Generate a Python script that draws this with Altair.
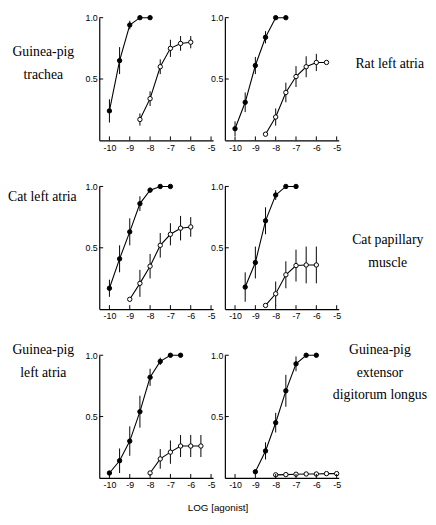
import altair as alt
import pandas as pd

# ---- data ----
panel_names = ["Guinea-pig\ntrachea", "Rat left atria", "Cat left atria",
               "Cat papillary\nmuscle", "Guinea-pig\nleft atria",
               "Guinea-pig\nextensor\ndigitorum longus"]

x_ticks = [-10, -9, -8, -7, -6, -5]
y_ticks = [0.5, 1.0]
x_title = "LOG [agonist]"

# Guinea-pig trachea
p1_full_x = [-10, -9.5, -9, -8.5, -8]
p1_full_y = [0.24, 0.65, 0.94, 1.0, 1.0]
p1_full_e = [0.095, 0.11, 0.035, 0, 0]
p1_part_x = [-8.5, -8, -7.5, -7, -6.5, -6]
p1_part_y = [0.17, 0.34, 0.60, 0.75, 0.79, 0.80]
p1_part_e = [0.05, 0.06, 0.06, 0.07, 0.06, 0.05]

# Rat left atria
p2_full_x = [-10, -9.5, -9, -8.5, -8, -7.5]
p2_full_y = [0.095, 0.31, 0.61, 0.84, 1.0, 1.0]
p2_full_e = [0.06, 0.08, 0.07, 0.05, 0, 0]
p2_part_x = [-8.5, -8, -7.5, -7, -6.5, -6, -5.5]
p2_part_y = [0.05, 0.19, 0.39, 0.52, 0.60, 0.635, 0.635]
p2_part_e = [0, 0.07, 0.08, 0.085, 0.085, 0.07, 0]

# Cat left atria
p3_full_x = [-10, -9.5, -9, -8.5, -8, -7.5, -7]
p3_full_y = [0.17, 0.41, 0.63, 0.86, 0.97, 1.0, 1.0]
p3_full_e = [0.07, 0.11, 0.11, 0.06, 0.02, 0, 0]
p3_part_x = [-9, -8.5, -8, -7.5, -7, -6.5, -6]
p3_part_y = [0.08, 0.21, 0.35, 0.52, 0.61, 0.66, 0.67]
p3_part_e = [0, 0.11, 0.10, 0.10, 0.09, 0.10, 0.08]

# Cat papillary muscle
p4_full_x = [-9.5, -9, -8.5, -8, -7.5, -7]
p4_full_y = [0.18, 0.38, 0.72, 0.93, 1.0, 1.0]
p4_full_e = [0.12, 0.13, 0.11, 0.04, 0, 0]
p4_part_x = [-8.5, -8, -7.5, -7, -6.5, -6]
p4_part_y = [0.03, 0.125, 0.28, 0.355, 0.36, 0.36]
p4_part_e = [0, 0.10, 0.11, 0.13, 0.15, 0.15]

# Guinea-pig left atria
p5_full_x = [-10, -9.5, -9, -8.5, -8, -7.5, -7, -6.5]
p5_full_y = [0.04, 0.14, 0.30, 0.54, 0.82, 0.95, 1.0, 1.0]
p5_full_e = [0, 0.10, 0.12, 0.13, 0.07, 0.03, 0, 0]
p5_part_x = [-8, -7.5, -7, -6.5, -6, -5.5]
p5_part_y = [0.04, 0.155, 0.21, 0.26, 0.26, 0.26]
p5_part_e = [0, 0.08, 0.095, 0.09, 0.09, 0.09]

# Guinea-pig extensor digitorum longus
p6_full_x = [-9, -8.5, -8, -7.5, -7, -6.5, -6]
p6_full_y = [0.05, 0.22, 0.45, 0.71, 0.93, 1.0, 1.0]
p6_full_e = [0, 0.07, 0.08, 0.13, 0.06, 0, 0]
p6_part_x = [-8, -7.5, -7, -6.5, -6, -5.5, -5]
p6_part_y = [0.025, 0.027, 0.03, 0.032, 0.032, 0.035, 0.035]
p6_part_e = [0, 0, 0, 0, 0, 0, 0]

W, H = 116, 125
XDOM = [-10.5, -4.9]
SERIF = "Liberation Serif"
SANS = "Liberation Sans"

XS = alt.Scale(domain=XDOM, nice=False, zero=False)
YS = alt.Scale(domain=[0, 1], nice=False)
XAX = alt.Axis(values=x_ticks, labelExpr="'' + datum.value", title=None,
               labelPadding=3)
YAX = alt.Axis(values=y_ticks, format=".1f", title=None, labelPadding=2)


def make_panel(full, part, label, lx, ly, extra_title=False, anchor=False):
    rows = []
    for s, (xs, ys, es) in (("full", full), ("partial", part)):
        for a, b, c in zip(xs, ys, es):
            rows.append(dict(series=s, logc=a, resp=b, lo=b - c, hi=b + c, err=c))
    df = pd.DataFrame(rows)
    base = alt.Chart(df)
    lines = base.mark_line(color="black", strokeWidth=1.1).encode(
        x=alt.X("logc:Q", scale=XS, axis=XAX),
        y=alt.Y("resp:Q", scale=YS, axis=YAX), detail="series:N")
    errs = base.transform_filter("datum.err > 0").mark_rule(
        color="black", strokeWidth=1).encode(
        x=alt.X("logc:Q", scale=XS, axis=XAX),
        y=alt.Y("lo:Q", scale=YS, axis=YAX), y2="hi:Q")
    pts = base.mark_circle(size=20, opacity=1, stroke="black", strokeWidth=1).encode(
        x=alt.X("logc:Q", scale=XS, axis=XAX),
        y=alt.Y("resp:Q", scale=YS, axis=YAX),
        fill=alt.Fill("series:N",
                      scale=alt.Scale(domain=["full", "partial"],
                                      range=["black", "white"]),
                      legend=None))
    xt = alt.Chart(pd.DataFrame({"v": x_ticks})).mark_rule(
        color="black", strokeWidth=1).encode(
        x=alt.X("v:Q", scale=XS, axis=XAX),
        y=alt.value(H), y2=alt.value(H - 4))
    yt = alt.Chart(pd.DataFrame({"v": y_ticks})).mark_rule(
        color="black", strokeWidth=1).encode(
        y=alt.Y("v:Q", scale=YS, axis=YAX),
        x=alt.value(0), x2=alt.value(4))
    lab = alt.Chart(pd.DataFrame({"t": [label]})).mark_text(
        font=SERIF, fontSize=14, lineBreak="\n", lineHeight=23,
        align="center", baseline="middle", color="black").encode(
        text="t:N", x=alt.value(lx), y=alt.value(ly))
    layers = [lines, errs, pts, xt, yt, lab]
    if extra_title:
        tt = alt.Chart(pd.DataFrame({"t": [x_title]})).mark_text(
            font=SANS, fontSize=10, align="center", baseline="middle",
            color="black").encode(text="t:N", x=alt.value(121),
                                  y=alt.value(156))
        layers.append(tt)
    if anchor:
        # invisible layout anchor that fixes the left edge of the figure
        an = alt.Chart(pd.DataFrame({"t": [""]})).mark_rule(
            strokeOpacity=0, strokeWidth=0.1).encode(
            x=alt.value(-93), x2=alt.value(-92), y=alt.value(40))
        layers.append(an)
    return alt.layer(*layers).properties(width=W, height=H)


panels = [
    make_panel((p1_full_x, p1_full_y, p1_full_e), (p1_part_x, p1_part_y, p1_part_e),
               panel_names[0], -57, 35, anchor=True),
    make_panel((p2_full_x, p2_full_y, p2_full_e), (p2_part_x, p2_part_y, p2_part_e),
               panel_names[1], 168, 47),
    make_panel((p3_full_x, p3_full_y, p3_full_e), (p3_part_x, p3_part_y, p3_part_e),
               panel_names[2], -58, 11),
    make_panel((p4_full_x, p4_full_y, p4_full_e), (p4_part_x, p4_part_y, p4_part_e),
               panel_names[3], 166, 55),
    make_panel((p5_full_x, p5_full_y, p5_full_e), (p5_part_x, p5_part_y, p5_part_e),
               panel_names[4], -57, -5, extra_title=True),
    make_panel((p6_full_x, p6_full_y, p6_full_e), (p6_part_x, p6_part_y, p6_part_e),
               panel_names[5], 158, -5),
]

chart = alt.concat(
    *panels, columns=2, spacing={"row": 47, "column": 12}, bounds="flush"
).properties(padding=0).configure_view(stroke=None).configure_axis(
    domainColor="black", domainWidth=1.2, ticks=False, grid=False,
    labelFont=SANS, labelFontSize=9, labelColor="black"
)

chart.save("out.html", embed_options={"renderer": "svg", "actions": False})
